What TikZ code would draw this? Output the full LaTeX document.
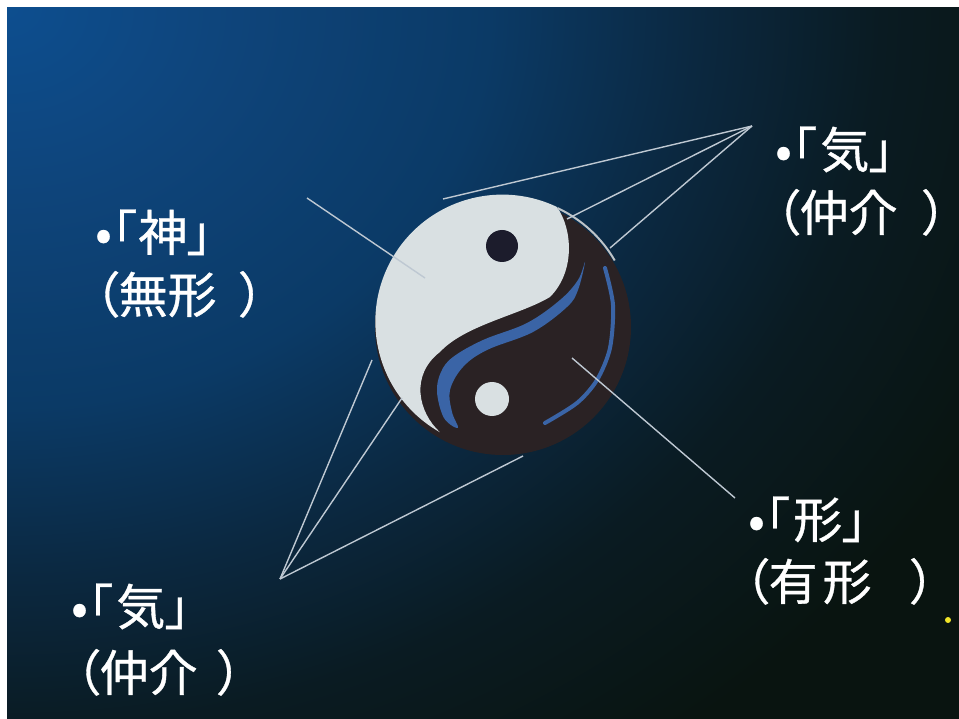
\documentclass[tikz,border=0pt]{standalone}
\usepackage{fontspec}
\newfontfamily\jpfont[RawFeature={+palt}, FakeBold=0.7]{Noto Sans CJK JP}
\definecolor{bgblue}{RGB}{13,78,143}
\definecolor{bgsky}{RGB}{14,68,122}
\definecolor{bgmid}{RGB}{11,58,102}
\definecolor{bgdeep}{RGB}{11,40,64}
\definecolor{bgnight}{RGB}{10,27,34}
\definecolor{bgdark}{RGB}{9,20,16}
\definecolor{yywhite}{RGB}{217,224,226}
\definecolor{yydark}{RGB}{42,34,36}
\definecolor{yyblue}{RGB}{58,100,166}
\definecolor{yyeye}{RGB}{28,28,44}
\definecolor{rimgray}{RGB}{190,196,200}
\definecolor{linegray}{RGB}{190,200,210}
\definecolor{dotyellow}{RGB}{240,228,40}
\pgfdeclareradialshading{bgglow}{\pgfpoint{0bp}{0bp}}{color(0bp)=(bgblue); color(5bp)=(bgsky); color(10.5bp)=(bgmid); color(15bp)=(bgdeep); color(19bp)=(bgnight); color(24bp)=(bgdark); color(50bp)=(bgdark)}
\tikzset{
  jptext/.style={anchor=base west, inner sep=0pt, text=white, font=\jpfont\fontsize{49}{52}\selectfont},
  ray/.style={draw=linegray, line width=1.4pt},
}
\begin{document}
\begin{tikzpicture}[x=1pt,y=-1pt]
  \useasboundingbox (0,0) rectangle (959,719);
  \fill[white] (0,0) rectangle (959,719);
  \begin{scope}
    \clip (7,8) rectangle (959,719);
    \fill[bgdark] (7,8) rectangle (959,719);
    \shade[shading=bgglow] (7,8) ellipse [x radius=1150, y radius=950];
  \end{scope}

  % taiji
  \fill[yydark] (503,327) circle (128);
  \fill[yywhite] (557,207) arc[start angle=-64.5, end angle=-240.6, radius=127]
    .. controls (418,412) and (410,375) .. (440,352)
    .. controls (465,325) and (520,315) .. (550,297)
    .. controls (575,272) and (573,230) .. (557,207) -- cycle;
  \fill[yyblue] plot[smooth cycle, tension=0.6] coordinates {(585,262) (578,290) (567,307) (533,332) (487,350) (463,367) (450,390) (452,412) (458,428) (444,418) (437,392) (441,372) (453,357) (483,340) (527,323) (560,300) (578,280)};
  \draw[yyblue, line width=4pt, line cap=round] plot[smooth] coordinates {(605,268) (613,305) (610,348) (597,380) (577,403) (545,423)};
  \draw[rimgray, line width=2pt] (503,325) ++(-65:129) arc[start angle=-65, end angle=-30, radius=129];
  \fill[yyeye] (502,246) circle (16);
  \fill[yywhite] (492,399) circle (17);

  % labels
  \node[jptext] (shenA) at (95,251) {•「\kern2pt 神」};
  \node[jptext] (shenB) at (94,313) {（無形 \kern12pt）};
  \node[jptext] (kiA) at (775,168) {•「\kern4pt 気」};
  \node[jptext] (kiB) at (775,231) {（仲介 \kern14pt）};
  \node[jptext] (keiA) at (748,538) {•「\kern4pt 形」};
  \node[jptext] (keiB) at (744,600) {（有\kern5pt 形 \kern28pt）};
  \node[jptext] (kiC) at (71,625) {•「\kern4pt 気」};
  \node[jptext] (kiD) at (75,691) {（仲介 \kern9pt）};

  \coordinate (kiTop) at (752,126);
  \coordinate (kiBot) at (280,579);
  \coordinate (shenEnd) at (307,198);
  \coordinate (keiEnd) at (735,498);

  \draw[ray] (shenEnd) -- (425,278);
  \draw[ray] (keiEnd) -- (572,358);
  \draw[ray] (kiTop) -- (443,199);
  \draw[ray] (kiTop) -- (567,219);
  \draw[ray] (kiTop) -- (610,248);
  \draw[ray] (kiBot) -- (372,360);
  \draw[ray] (kiBot) -- (402,398);
  \draw[ray] (kiBot) -- (523,456);

  \fill[dotyellow] (948,620) circle (3);
\end{tikzpicture}
\end{document}
